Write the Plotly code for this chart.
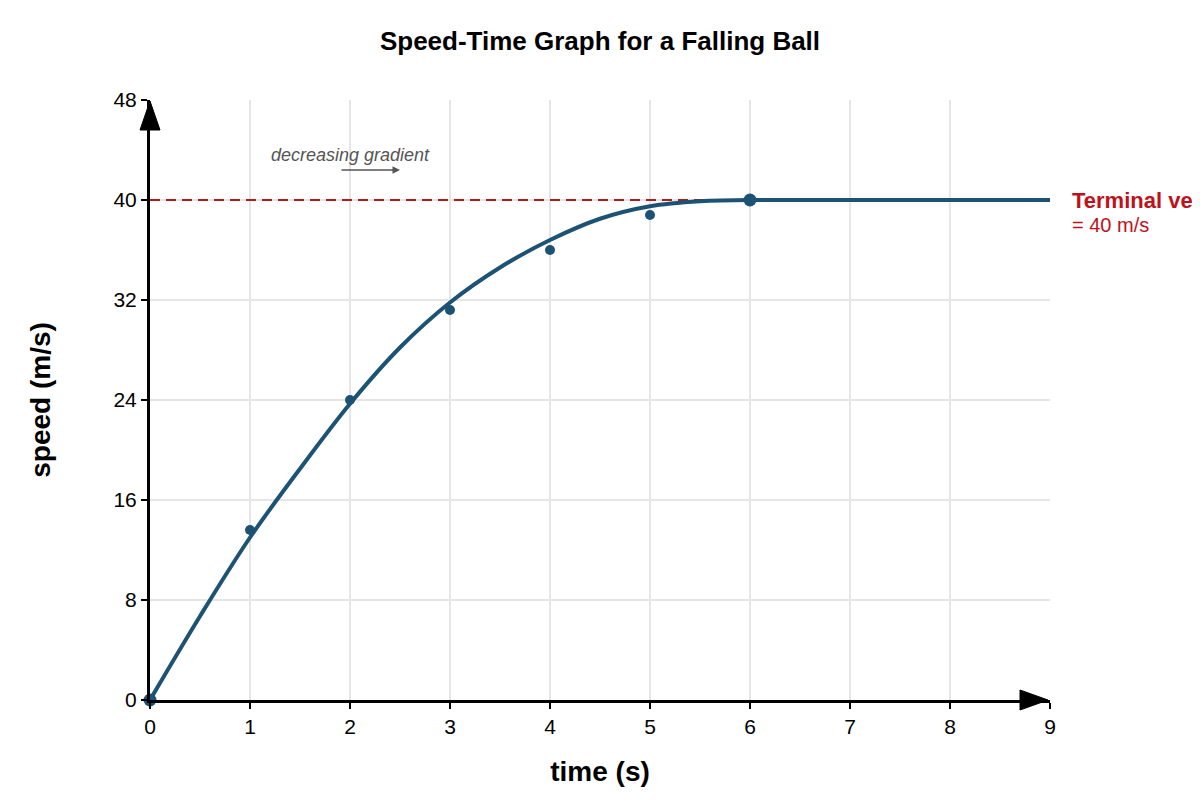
import plotly.graph_objects as go

# ---- data ----
sample_time = [0, 1, 2, 3, 4, 5, 6]
sample_speed = [0, 13.6, 24, 31.2, 36, 38.8, 40]

curve_time = [0, 0.5, 1, 1.5, 2, 2.5, 3, 3.5, 4, 4.5, 5, 5.5, 6]
curve_speed = [0, 6.7, 13.0, 18.5, 23.7, 28.2, 31.8, 34.6, 36.8, 38.5, 39.5, 39.9, 40]

flat_time = [6, 7, 8, 9]
flat_speed = [40, 40, 40, 40]

terminal_speed = 40
terminal_span = [0, 6]

x_ticks = [0, 1, 2, 3, 4, 5, 6, 7, 8, 9]
y_ticks = [0, 8, 16, 24, 32, 40, 48]

BLUE = "#1c5273"
RED = "#b01c1c"
FONT = "Liberation Sans, Arial, sans-serif"

fig = go.Figure()

# terminal velocity dashed line
fig.add_trace(go.Scatter(
    x=terminal_span, y=[terminal_speed, terminal_speed], mode="lines",
    line=dict(color=RED, width=2, dash="10px,6px"), hoverinfo="skip", showlegend=False))

# smooth curve
fig.add_trace(go.Scatter(
    x=curve_time, y=curve_speed, mode="lines", line_shape="spline",
    line=dict(color=BLUE, width=4), showlegend=False, cliponaxis=False))
fig.add_trace(go.Scatter(
    x=flat_time, y=flat_speed, mode="lines",
    line=dict(color=BLUE, width=4), showlegend=False, cliponaxis=False))

# sample points
fig.add_trace(go.Scatter(
    x=sample_time[1:-1], y=sample_speed[1:-1], mode="markers",
    marker=dict(color=BLUE, size=10), showlegend=False, cliponaxis=False))
fig.add_trace(go.Scatter(
    x=[sample_time[0], sample_time[-1]], y=[sample_speed[0], sample_speed[-1]], mode="markers",
    marker=dict(color=BLUE, size=13), showlegend=False, cliponaxis=False))

# axis arrowheads (paper-referenced so they are not clipped)
fig.add_shape(type="path", xref="paper", yref="paper", xsizemode="pixel", ysizemode="pixel",
              xanchor=1, yanchor=0,
              path="M -30,10 L -2,0 L -30,-10 Z", fillcolor="black", line=dict(color="black", width=1),
              layer="above")
fig.add_shape(type="path", xref="paper", yref="paper", xsizemode="pixel", ysizemode="pixel",
              xanchor=0, yanchor=1,
              path="M -10,-30 L 0,-1 L 10,-30 Z", fillcolor="black", line=dict(color="black", width=1),
              layer="above")

# annotations
fig.add_annotation(x=2, y=43.6, xref="x", yref="y", text="<i>decreasing gradient</i>",
                   showarrow=False, font=dict(family=FONT, size=18, color="#555555"))
fig.add_annotation(x=2.5, y=42.4, ax=1.9, ay=42.4, xref="x", yref="y", axref="x", ayref="y",
                   text="", showarrow=True, arrowhead=2, arrowsize=1, arrowwidth=1.5,
                   arrowcolor="#555555")
fig.add_annotation(x=9, y=terminal_speed, xref="x", yref="y", xshift=20, xanchor="left",
                   yanchor="middle", text="<b>Terminal velocity</b>", showarrow=False,
                   font=dict(family=FONT, size=22, color="#c0101a"))
fig.add_annotation(x=9, y=terminal_speed, xref="x", yref="y", xshift=20, yshift=-25,
                   xanchor="left", yanchor="middle", text="= 40 m/s", showarrow=False,
                   font=dict(family=FONT, size=20, color="#c0101a"))

fig.update_layout(
    width=1192, height=792,
    margin=dict(l=142, r=150, t=92, b=100),
    paper_bgcolor="white", plot_bgcolor="white",
    font=dict(family=FONT, color="black"),
    title=dict(text="<b>Speed-Time Graph for a Falling Ball</b>", x=(600 - 8) / 1192, xanchor="center",
               y=1 - (41 - 8) / 792, yanchor="middle", font=dict(size=26, family=FONT, color="black")),
    showlegend=False,
)
fig.update_xaxes(range=[0, 9], tickvals=x_ticks, showgrid=True, gridcolor="#e6e6e6", gridwidth=1.5,
                 showline=True, linecolor="black", linewidth=3, zeroline=False,
                 ticks="outside", ticklen=6, tickwidth=2, tickcolor="black",
                 tickfont=dict(size=21, family=FONT),
                 title=dict(text="<b>time (s)</b>", font=dict(size=28, family=FONT), standoff=25))
fig.update_yaxes(range=[0, 48], tickvals=y_ticks, showgrid=True, gridcolor="#e6e6e6", gridwidth=1.5,
                 showline=True, linecolor="black", linewidth=3, zeroline=False,
                 ticks="outside", ticklen=6, tickwidth=2, tickcolor="black",
                 tickfont=dict(size=21, family=FONT),
                 title=dict(text="<b>speed (m/s)</b>", font=dict(size=28, family=FONT), standoff=55))

fig.write_html("out.html")
